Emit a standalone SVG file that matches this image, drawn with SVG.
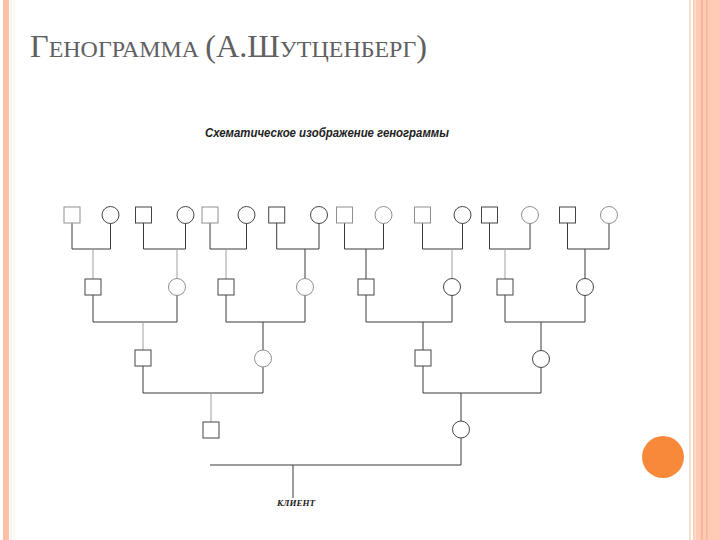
<svg xmlns="http://www.w3.org/2000/svg" width="720" height="540" viewBox="0 0 720 540">
<style>
.n{fill:none;stroke:#444;stroke-width:1}
.nf{fill:none;stroke:#8f8f8f;stroke-width:1}
.c{fill:none;stroke:#3a3a3a;stroke-width:1}
.cf{fill:none;stroke:#a0a0a0;stroke-width:1}
.title{font-family:"Liberation Serif",serif;fill:#606060}
.sub{font-family:"Liberation Sans",sans-serif;font-style:italic;font-weight:bold;font-size:12px;fill:#222}
.lbl{font-family:"Liberation Serif",serif;font-style:italic;font-weight:bold;font-size:9px;fill:#222}
</style>
<rect width="720" height="540" fill="#fff"/>
<g id="frame">
<rect x="3" y="0" width="6" height="540" fill="#fdbfa6"/>
<line x1="11" y1="0" x2="11" y2="540" stroke="#ece6f0" stroke-width="1"/>
<line x1="14" y1="0" x2="14" y2="540" stroke="#f6f0d8" stroke-width="1"/>
<line x1="690" y1="0" x2="690" y2="540" stroke="#f1d3c1" stroke-width="1.5"/>
<rect x="693" y="0" width="27" height="540" fill="#ffcbb7"/>
<rect x="701" y="0" width="2" height="540" fill="#f9b69c"/>
<rect x="706" y="0" width="1.5" height="540" fill="#f9b69c"/>
<line x1="695" y1="0" x2="695" y2="540" stroke="#fde3d8" stroke-width="1"/>
<circle cx="663" cy="457" r="21" fill="#f8893a"/>
</g>
<text class="title" x="30" y="57" textLength="397" lengthAdjust="spacingAndGlyphs"><tspan font-size="31">Г</tspan><tspan font-size="23">ЕНОГРАММА </tspan><tspan font-size="31">(А.Ш</tspan><tspan font-size="23">УТЦЕНБЕРГ</tspan><tspan font-size="31">)</tspan></text>
<text class="sub" x="205" y="137" textLength="244" lengthAdjust="spacingAndGlyphs">Схематическое изображение генограммы</text>
<g id="connectors">
<path class="c" d="M72 223V249H110.5V223.5"/>
<path class="c" d="M143.5 223V249H185.5V223.5"/>
<path class="c" d="M210 223V249H246.5V223.5"/>
<path class="c" d="M276.7 223V249H319V223.5"/>
<path class="c" d="M344.5 223V249H383.5V223.5"/>
<path class="c" d="M422.5 223V249H462.5V223.5"/>
<path class="c" d="M489.5 223V249H530V223.5"/>
<path class="c" d="M567.5 223V249H609V223.5"/>
<path class="cf" d="M93 249V279"/>
<path class="cf" d="M177 249V278.5"/>
<path class="cf" d="M226 249V279"/>
<path class="c" d="M305 249V278.5"/>
<path class="c" d="M366 249V279"/>
<path class="cf" d="M452 249V278.5"/>
<path class="cf" d="M505 249V279"/>
<path class="c" d="M585 249V278.5"/>
<path class="c" d="M93 295V322H177V295.5"/>
<path class="c" d="M226 295V322H305V295.5"/>
<path class="c" d="M366 295V322H452V295.5"/>
<path class="c" d="M505 295V322H585V295.5"/>
<path class="cf" d="M143 322V350"/>
<path class="c" d="M263 322V350"/>
<path class="c" d="M423 322V350"/>
<path class="c" d="M541 322V350.5"/>
<path class="c" d="M143 366V393H263V367"/>
<path class="c" d="M423 366V393H541V367.5"/>
<path class="cf" d="M211 393V422"/>
<path class="c" d="M461 393V421"/>
<path class="c" d="M210 465H461V438"/>
<path class="c" d="M293 465V498"/>
</g>
<g id="gen1">
<g id="m1"><rect class="nf" x="64" y="207" width="16" height="16"/></g>
<g id="f1"><circle class="n" cx="110.5" cy="215" r="8.5"/></g>
<g id="m2"><rect class="n" x="135.5" y="207" width="16" height="16"/></g>
<g id="f2"><circle class="n" cx="185.5" cy="215" r="8.5"/></g>
<g id="m3"><rect class="nf" x="202" y="207" width="16" height="16"/></g>
<g id="f3"><circle class="n" cx="246.5" cy="215" r="8.5"/></g>
<g id="m4"><rect class="n" x="268.7" y="207" width="16" height="16"/></g>
<g id="f4"><circle class="n" cx="319" cy="215" r="8.5"/></g>
<g id="m5"><rect class="nf" x="336.5" y="207" width="16" height="16"/></g>
<g id="f5"><circle class="nf" cx="383.5" cy="215" r="8.5"/></g>
<g id="m6"><rect class="nf" x="414.5" y="207" width="16" height="16"/></g>
<g id="f6"><circle class="n" cx="462.5" cy="215" r="8.5"/></g>
<g id="m7"><rect class="n" x="481.5" y="207" width="16" height="16"/></g>
<g id="f7"><circle class="nf" cx="530" cy="215" r="8.5"/></g>
<g id="m8"><rect class="n" x="559.5" y="207" width="16" height="16"/></g>
<g id="f8"><circle class="nf" cx="609" cy="215" r="8.5"/></g>
</g>
<g id="gen2">
<g id="m9"><rect class="n" x="85" y="279" width="16" height="16"/></g>
<g id="f9"><circle class="nf" cx="177" cy="287" r="8.5"/></g>
<g id="m10"><rect class="n" x="218" y="279" width="16" height="16"/></g>
<g id="f10"><circle class="nf" cx="305" cy="287" r="8.5"/></g>
<g id="m11"><rect class="n" x="358" y="279" width="16" height="16"/></g>
<g id="f11"><circle class="n" cx="452" cy="287" r="8.5"/></g>
<g id="m12"><rect class="n" x="497" y="279" width="16" height="16"/></g>
<g id="f12"><circle class="n" cx="585" cy="287" r="8.5"/></g>
</g>
<g id="gen3">
<g id="m13"><rect class="n" x="135" y="350" width="16" height="16"/></g>
<g id="f13"><circle class="nf" cx="263" cy="358.5" r="8.5"/></g>
<g id="m14"><rect class="n" x="415" y="350" width="16" height="16"/></g>
<g id="f14"><circle class="n" cx="541" cy="359" r="8.5"/></g>
</g>
<g id="gen4">
<g id="m15"><rect class="n" x="203" y="422" width="16" height="16"/></g>
<g id="f15"><circle class="n" cx="461" cy="429.5" r="8.5"/></g>
</g>
<g id="client"><text class="lbl" x="296" y="506" text-anchor="middle">КЛИЕНТ</text></g>
</svg>
